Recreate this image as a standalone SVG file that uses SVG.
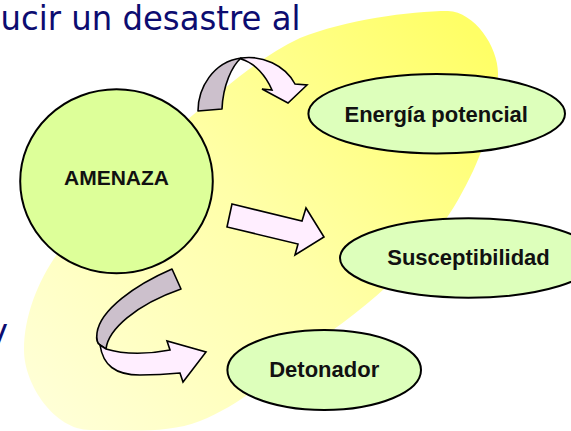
<svg xmlns="http://www.w3.org/2000/svg" width="571" height="431" viewBox="0 0 571 431">
  <defs>
    <linearGradient id="blobGrad" gradientUnits="userSpaceOnUse" x1="60" y1="420" x2="470" y2="30">
      <stop offset="0" stop-color="#FFFFD6"/>
      <stop offset="0.5" stop-color="#FFFFA8"/>
      <stop offset="1" stop-color="#FFFF66"/>
    </linearGradient>
    <style>
      .title { font-family: "DejaVu Sans", Verdana, sans-serif; font-size: 33px; fill: #0C0C70; }
      .node { stroke: #000; stroke-width: 2; }
      .hub { fill: #DDFF99; }
      .leaf { fill: #DDFFBB; }
      .label { font-family: "Liberation Sans", Arial, sans-serif; font-weight: bold; font-size: 22px; fill: #111; text-anchor: middle; }
      .back { fill: #CCC0CC; stroke: #000; stroke-width: 1.6; stroke-linejoin: round; }
      .front { fill: #FFEEFF; stroke: #000; stroke-width: 1.6; stroke-linejoin: miter; }
    </style>
  </defs>

  <rect width="571" height="431" fill="#FFFFFF"/>

  <g id="background">
    <path fill="url(#blobGrad)" d="M448,11 C475,12 499,48 498,75 C496,119 480,162 458,200 C427,253 380,297 330,332 C287,362 247,403 200,421 C167,434 127,430 90,430 C55,430 24,385 24,350 C24,315 39,278 60,250 C96,202 141,159 187,120 C222,90 258,58 300,38 C345,20 410,11 448,11 Z"/>
  </g>

  <g id="title-text">
    <text class="title" x="0.5" y="30" textLength="300" lengthAdjust="spacingAndGlyphs">ucir un desastre al</text>
    <text class="title" x="-11.5" y="343">y</text>
  </g>

  <g id="connectors">
    <g id="arrow-energia">
      <path class="back" d="M198,111 C198,88 213,62 241,58 C232,66 223,85 222,109 Z"/>
      <path class="front" d="M241,58 C262,55 285,65 295,84 L307,85 L288,103 L262,89 L272,90 C266,76 255,63 241,59 Z"/>
    </g>
    <g id="arrow-susceptibilidad">
      <polygon class="front" points="232,204 302,221 306,208 324,237 295,255 298,244 227,227"/>
    </g>
    <g id="arrow-detonador">
      <path class="back" d="M172,269 C135,285 100,310 97,333 C96,340 98,344 100,345 L106,349 C108,330 135,305 181,289 Z"/>
      <path class="front" d="M100,345 C103,365 115,375 140,375 C155,375 170,374 180,373 L183,382 L206,352 L167,341 L170,350 C150,354 125,355 106,349 Z"/>
    </g>
  </g>

  <g id="amenaza">
    <ellipse class="node hub" cx="116.5" cy="181.3" rx="96.3" ry="92"/>
    <text class="label" x="116.5" y="185" style="font-size:21px">AMENAZA</text>
  </g>

  <g id="energia-potencial">
    <ellipse class="node leaf" cx="436.7" cy="113.7" rx="128.3" ry="39.7"/>
    <text class="label" x="436.2" y="121.7">Energía potencial</text>
  </g>

  <g id="susceptibilidad">
    <ellipse class="node leaf" cx="468.5" cy="258" rx="128.5" ry="39.7"/>
    <text class="label" x="468.5" y="265">Susceptibilidad</text>
  </g>

  <g id="detonador">
    <ellipse class="node leaf" cx="324.2" cy="370" rx="96.8" ry="40"/>
    <text class="label" x="324.2" y="377">Detonador</text>
  </g>
</svg>
